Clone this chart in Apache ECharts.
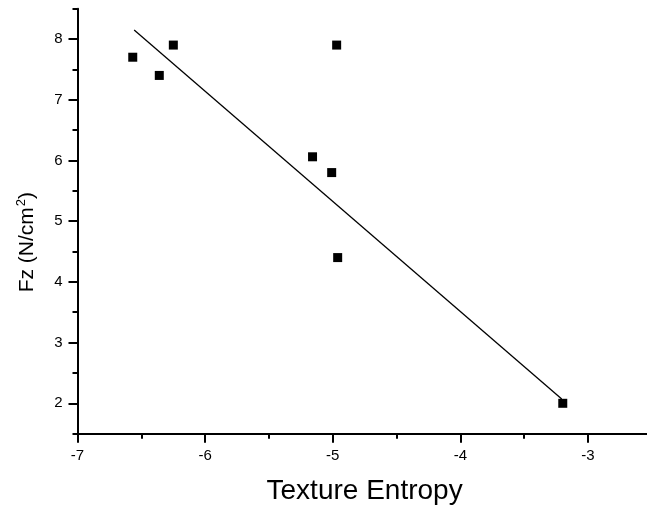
<!DOCTYPE html>
<html>
<head>
<meta charset="utf-8">
<script src="https://cdn.jsdelivr.net/npm/echarts@6/dist/echarts.min.js"></script>
<style>
html,body{margin:0;padding:0;background:#fff;}
#chart{width:647px;height:517px;}
</style>
</head>
<body>
<div id="chart"></div>
<script>
// Scatter data (Texture Entropy vs Fz)
var entropyX = [-6.567, -6.359, -6.249, -5.158, -5.008, -4.969, -4.961, -3.197];
var forceY   = [7.70, 7.40, 7.90, 6.06, 5.80, 7.90, 4.40, 2.00];
// Fitted line endpoints
var fitX = [-6.556, -3.205];
var fitY = [8.148, 2.07];
// Tick values
var xMajorTicks = [-7, -6, -5, -4, -3];
var xMinorTicks = [-6.5, -5.5, -4.5, -3.5, -2.5];
var yMajorTicks = [2, 3, 4, 5, 6, 7, 8];
var yMinorTicks = [1.5, 2.5, 3.5, 4.5, 5.5, 6.5, 7.5, 8.5];

var FONT = 'Liberation Sans, Arial, sans-serif';
var xMin = -7, xMax = -2.5, yMin = 1.5, yMax = 8.5;
var gridBox = {left: 77.5, top: 8.65, width: 574.2, height: 425, containLabel: false, outerBoundsMode: 'none'};

var scatterData = entropyX.map(function (x, i) { return [x, forceY[i]]; });
var lineData = fitX.map(function (x, i) { return [x, fitY[i]]; });

var chart = echarts.init(document.getElementById('chart'), null, {renderer: 'canvas'});
chart.setOption({
  backgroundColor: '#ffffff',
  animation: false,
  grid: [Object.assign({}, gridBox), Object.assign({}, gridBox)],
  xAxis: [{
    type: 'value', gridIndex: 0, min: xMin, max: xMax,
    name: 'Texture Entropy', nameLocation: 'middle', nameGap: 58,
    nameTextStyle: {fontFamily: FONT, fontSize: 28, color: '#000', verticalAlign: 'middle'},
    axisLine: {show: true, onZero: false, lineStyle: {color: '#000', width: 2}},
    axisTick: {show: true, customValues: xMajorTicks, length: 9, lineStyle: {color: '#000', width: 2}},
    axisLabel: {show: true, customValues: xMajorTicks, margin: 15, fontFamily: FONT, fontSize: 15, color: '#000'},
    splitLine: {show: false}
  }, {
    type: 'value', gridIndex: 1, min: xMin, max: xMax,
    axisLine: {show: false},
    axisTick: {show: true, customValues: xMinorTicks, length: 5, lineStyle: {color: '#000', width: 2}},
    axisLabel: {show: false},
    splitLine: {show: false}
  }],
  yAxis: [{
    type: 'value', gridIndex: 0, min: yMin, max: yMax,
    name: 'Fz (N/cm{sup|2})', nameLocation: 'middle', nameGap: 50, nameRotate: 90,
    nameTextStyle: {
      fontFamily: FONT, fontSize: 21, color: '#000', verticalAlign: 'middle',
      padding: [0, 42, 0, 0],
      rich: {sup: {fontFamily: FONT, fontSize: 13, color: '#000', verticalAlign: 'top', padding: [0, 0, 12, 1]}}
    },
    axisLine: {show: true, onZero: false, lineStyle: {color: '#000', width: 2}},
    axisTick: {show: true, customValues: yMajorTicks, length: 9, lineStyle: {color: '#000', width: 2}},
    axisLabel: {show: true, customValues: yMajorTicks, margin: 15, fontFamily: FONT, fontSize: 15, color: '#000'},
    splitLine: {show: false}
  }, {
    type: 'value', gridIndex: 1, min: yMin, max: yMax,
    axisLine: {show: false},
    axisTick: {show: true, customValues: yMinorTicks, length: 5, lineStyle: {color: '#000', width: 2}},
    axisLabel: {show: false},
    splitLine: {show: false}
  }],
  series: [{
    type: 'line', xAxisIndex: 0, yAxisIndex: 0,
    data: lineData, showSymbol: false, symbol: 'none',
    lineStyle: {color: '#000', width: 1.3}, silent: true, z: 2
  }, {
    type: 'scatter', xAxisIndex: 0, yAxisIndex: 0,
    data: scatterData, symbol: 'rect', symbolSize: 9,
    itemStyle: {color: '#000', opacity: 1}, z: 3
  }]
});
</script>
</body>
</html>
